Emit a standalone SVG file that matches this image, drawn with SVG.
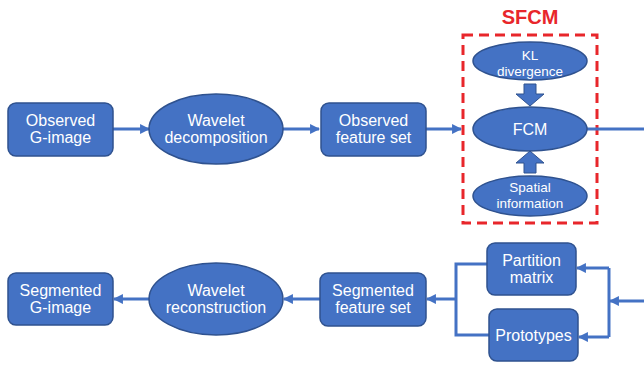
<svg xmlns="http://www.w3.org/2000/svg" width="644" height="365" viewBox="0 0 644 365">
<defs>
<style>
.n{fill:#4472C4;stroke:#2F528F;stroke-width:1.5}
.t{fill:#fff;font-family:"Liberation Sans",Arial,sans-serif;font-size:16px;text-anchor:middle}
.s{font-size:13.5px}
.c{fill:none;stroke:#4472C4;stroke-width:3}
.b{fill:#4472C4;stroke:#2F528F;stroke-width:1}
</style>
<marker id="ah" viewBox="0 0 10 10" refX="9" refY="5" markerWidth="3.3" markerHeight="3.3" orient="auto" markerUnits="strokeWidth">
<path d="M0,0L10,5L0,10z" fill="#4472C4"/>
</marker>
</defs>
<rect width="644" height="365" fill="#fff"/>
<g id="sfcm">
<rect x="463" y="35" width="134" height="188" fill="none" stroke="#E8262B" stroke-width="3" stroke-dasharray="10,6"/>
<text x="530" y="24" fill="#E8262B" font-family="Liberation Sans,Arial,sans-serif" font-size="20" font-weight="bold" text-anchor="middle">SFCM</text>
</g>
<g id="connectors">
<line class="c" x1="113" y1="129" x2="149" y2="129" marker-end="url(#ah)"/>
<line class="c" x1="283" y1="129" x2="319" y2="129" marker-end="url(#ah)"/>
<line class="c" x1="426" y1="129" x2="461" y2="129" marker-end="url(#ah)"/>
<line class="c" x1="587" y1="129" x2="644" y2="129"/>
<line class="c" x1="644" y1="301" x2="610" y2="301" marker-end="url(#ah)"/>
<polyline class="c" points="609,268 609,337"/>
<line class="c" x1="609" y1="268" x2="577" y2="268" marker-end="url(#ah)"/>
<line class="c" x1="609" y1="337" x2="579" y2="337" marker-end="url(#ah)"/>
<polyline class="c" points="488,264 456,264 456,335 490,335"/>
<line class="c" x1="456" y1="299" x2="427" y2="299" marker-end="url(#ah)"/>
<line class="c" x1="320" y1="299" x2="284" y2="299" marker-end="url(#ah)"/>
<line class="c" x1="150" y1="299" x2="114" y2="299" marker-end="url(#ah)"/>
<path class="b" d="M524,84H536V94H544L530,106L516,94H524Z"/>
<path class="b" d="M524,173H536V163H544L530,151L516,163H524Z"/>
</g>
<g id="observed-g-image">
<rect class="n" x="8" y="103" width="105" height="53" rx="8"/>
<text class="t" x="60.5" y="126">Observed</text>
<text class="t" x="60.5" y="143">G-image</text>
</g>
<g id="wavelet-decomposition">
<ellipse class="n" cx="216" cy="129" rx="67" ry="35"/>
<text class="t" x="216" y="126">Wavelet</text>
<text class="t" x="216" y="143">decomposition</text>
</g>
<g id="observed-feature-set">
<rect class="n" x="321" y="103" width="105" height="53" rx="8"/>
<text class="t" x="373.5" y="126">Observed</text>
<text class="t" x="373.5" y="143">feature set</text>
</g>
<g id="kl-divergence">
<ellipse class="n" cx="530" cy="61" rx="57" ry="19"/>
<text class="t s" x="530" y="60">KL</text>
<text class="t s" x="530" y="76">divergence</text>
</g>
<g id="fcm">
<ellipse class="n" cx="530" cy="129" rx="57" ry="22"/>
<text class="t" x="530" y="135">FCM</text>
</g>
<g id="spatial-information">
<ellipse class="n" cx="530" cy="196" rx="57" ry="20"/>
<text class="t s" x="530" y="192">Spatial</text>
<text class="t s" x="530" y="208">information</text>
</g>
<g id="partition-matrix">
<rect class="n" x="487" y="243" width="89" height="52" rx="8"/>
<text class="t" x="531.5" y="266">Partition</text>
<text class="t" x="531.5" y="283">matrix</text>
</g>
<g id="prototypes">
<rect class="n" x="489" y="309" width="89" height="52" rx="8"/>
<text class="t" x="533.5" y="341">Prototypes</text>
</g>
<g id="segmented-feature-set">
<rect class="n" x="320" y="273" width="106" height="53" rx="8"/>
<text class="t" x="373" y="296">Segmented</text>
<text class="t" x="373" y="313">feature set</text>
</g>
<g id="wavelet-reconstruction">
<ellipse class="n" cx="216" cy="299" rx="67" ry="36"/>
<text class="t" x="216" y="296">Wavelet</text>
<text class="t" x="216" y="313">reconstruction</text>
</g>
<g id="segmented-g-image">
<rect class="n" x="8" y="273" width="105" height="52" rx="8"/>
<text class="t" x="60.5" y="296">Segmented</text>
<text class="t" x="60.5" y="313">G-image</text>
</g>
</svg>
